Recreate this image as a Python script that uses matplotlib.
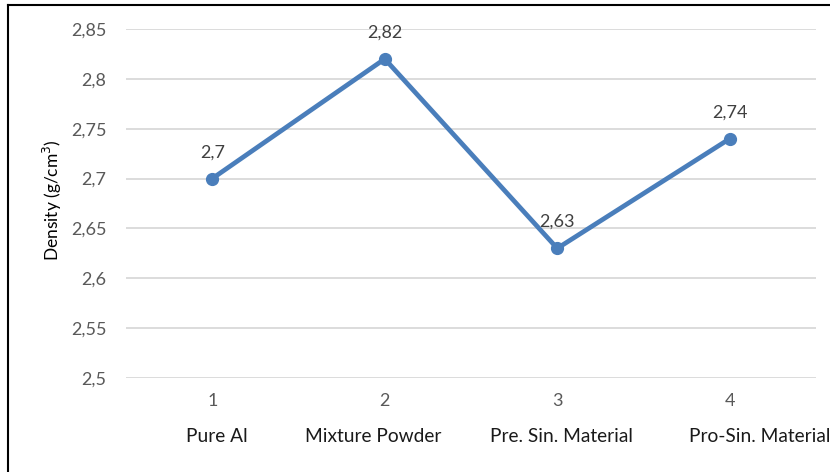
import matplotlib
matplotlib.use("Agg")
import matplotlib.pyplot as plt
from matplotlib.ticker import FuncFormatter
from matplotlib.lines import Line2D
from matplotlib.transforms import blended_transform_factory, offset_copy

categories = ["Pure Al", "Mixture Powder", "Pre. Sin. Material", "Pro-Sin. Material"]
numbers = ["1", "2", "3", "4"]
density = [2.70, 2.82, 2.63, 2.74]
yticks = [2.5, 2.55, 2.6, 2.65, 2.7, 2.75, 2.8, 2.85]

plt.rcParams['font.family'] = ['Lato', 'DejaVu Sans']

fig = plt.figure(figsize=(8.3, 4.72), dpi=100)
ax = fig.add_axes([126/830, 1-378/472, 690/830, (378-29)/472])

x = list(range(len(categories)))
ax.plot(x, density, color="#4A7EBB", lw=3.4, marker="o", ms=8.5, solid_capstyle="round", zorder=3)

def fmt(v, pos=None):
    s = f"{v:.2f}".rstrip("0").rstrip(".")
    return s.replace(".", ",")

for xi, v in zip(x, density):
    ax.annotate(fmt(v), (xi, v), xytext=(0, 19), textcoords="offset points",
                ha="center", va="center", fontsize=13, color="#404040", zorder=4)

ax.set_xlim(-0.5, len(categories) - 0.5)
ax.set_ylim(2.5, 2.85)
ax.set_yticks(yticks)
ax.yaxis.set_major_formatter(FuncFormatter(fmt))
ax.set_xticks(x)
ax.set_xticklabels(numbers)
ax.tick_params(axis="y", length=0, pad=14, labelsize=13, labelcolor="#595959")
ax.tick_params(axis="x", length=0, pad=11, labelsize=13, labelcolor="#595959")
ax.grid(axis="y", color="#D9D9D9", lw=1.3)
ax.set_axisbelow(True)
for s in ax.spines.values():
    s.set_visible(False)

trans = blended_transform_factory(ax.transData, fig.transFigure)
label_shift_px = [5, -12, 4, 30]
for xi, c, dx in zip(x, categories, label_shift_px):
    t = offset_copy(trans, fig=fig, x=dx, y=0, units="dots")
    ax.text(xi, 1-436/472, c, transform=t, ha="center", va="center",
            fontsize=13.8, color="#1a1a1a", clip_on=False)

fig.text(52/830, 1-200/472, "Density (g/cm$^3$)", rotation=90, ha="center", va="center",
         fontsize=12.5, color="#000000")

fig.add_artist(Line2D([8/830, 8/830], [0, 1-5/472], transform=fig.transFigure, color="black", lw=1.5))
fig.add_artist(Line2D([8/830, 1], [1-5/472, 1-5/472], transform=fig.transFigure, color="black", lw=1.5))

fig.savefig("out.png", dpi=100)
